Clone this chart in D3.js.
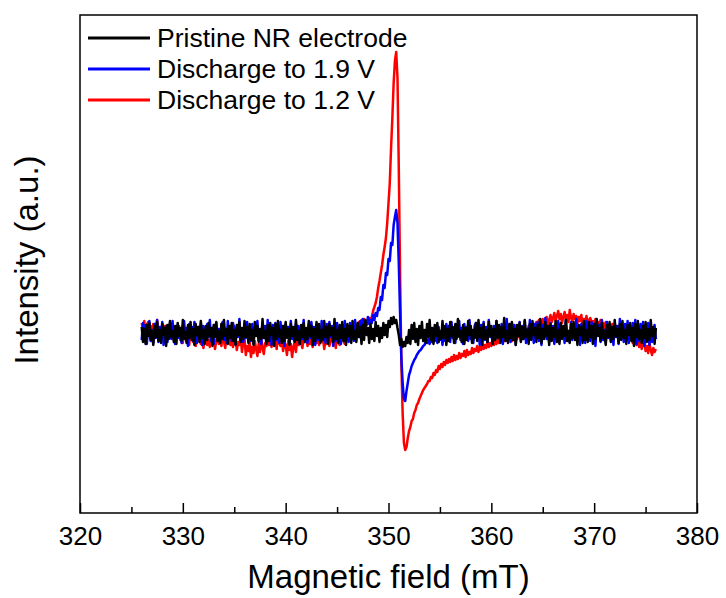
<!DOCTYPE html>
<html>
<head>
<meta charset="utf-8">
<script src="https://cdn.jsdelivr.net/npm/d3@7"></script>
<style>
    body { margin: 0; background: #fff; }
    text { font-family: "Liberation Sans", Arial, sans-serif; fill: #000; }
</style>
</head>
<body>
<svg id="chart" width="726" height="598"></svg>
<script>
// field axis sampling (mT): one reading every 0.125 mT from 326 to 376
var fieldStart = 326;
var fieldStep = 0.125;

// intensity (a.u.)
var pristine = [
    6, -9, 4, -11, 8, -3, 10, -7, 2, -12, 7, -4, 11, -8, 3, -10, 9, -2, 5, -13,
    8, -6, 12, -4, 2, -9, 7, -11, 10, -3, 5, -8, 13, -6, 1, -10, 8, -5, 11, -7,
    4, -12, 9, -2, 6, -9, 12, -5, 3, -11, 7, -7, 10, -3, 5, -13, 8, -4, 11, -8,
    2, -10, 9, -6, 13, -3, 4, -11, 7, -5, 10, -8, 3, -12, 8, -2, 11, -9, 5, -6,
    12, -4, 6, -10, 9, -7, 3, -12, 11, -3, 7, -9, 4, -6, 14, -5, 2, -11, 8, -8,
    10, -2, 5, -13, 9, -6, 12, -4, 3, -10, 7, -8, 11, -5, 4, -12, 9, -3, 6, -9,
    13, -7, 2, -11, 8, -4, 10, -9, 5, -6, 12, -3, 7, -12, 4, -8, 11, -5, 9, -10,
    3, -7, 12, -4, 6, -11, 9, -2, 5, -9, 14, -6, 3, -10, 8, -5, 11, -8, 4, -12,
    9, -3, 7, -10, 12, -6, 2, -9, 10, -4, 6, -11, 8, -7, 13, -2, 5, -10, 9, -6,
    4, -8, 11, -3, 7, -9, 5, -5, 10, -2, 8, -4, 12, 6, 15, 9, 16, 10, 13, 5,
    -2, -12, -6, -14, -9, -13, -4, -10, 3, -11, 8, -6, 10, -9, 4, -12, 7, -5, 11, -8,
    3, -10, 9, -4, 13, -7, 5, -11, 8, -3, 10, -9, 2, -6, 12, -5, 7, -12, 4, -8,
    11, -3, 6, -10, 9, -6, 14, -4, 2, -9, 8, -11, 5, -7, 12, -2, 7, -10, 3, -5,
    10, -8, 13, -4, 5, -12, 9, -6, 3, -9, 11, -3, 7, -11, 4, -7, 12, -5, 8, -10,
    6, -4, 15, -8, 2, -10, 9, -5, 11, -7, 4, -12, 8, -3, 10, -9, 6, -6, 13, -4,
    3, -11, 9, -7, 12, -2, 5, -9, 8, -5, 14, -10, 4, -6, 11, -3, 7, -12, 9, -8,
    5, -4, 12, -9, 3, -11, 10, -6, 7, -3, 13, -8, 2, -10, 9, -5, 11, -7, 4, -12,
    8, -2, 6, -10, 12, -7, 3, -9, 11, -4, 7, -11, 9, -6, 14, -3, 5, -8, 10, -5,
    2, -12, 8, -4, 11, -9, 6, -6, 13, -3, 4, -10, 9, -7, 12, -5, 3, -11, 8, -2,
    10, -8, 5, -13, 9, -4, 12, -6, 3, -10, 7, -5, 11, -9, 4, -7, 13, -3, 6, -11,
    5
];

var discharge19 = [
    -7, 10, -4, 8, -11, 5, 12, -8, 3, -10, 9, -5, 13, -9, 6, -3, 11, -12, 4, 7,
    -9, 2, 10, -6, 12, -4, -11, 6, 8, -5, 3, -10, 7, 12, -6, 5, -13, 9, -3, 6,
    -8, 11, 4, -10, 6, -5, 10, -12, 7, 3, -6, 9, -4, 13, -8, 5, -11, 6, 10, -5,
    4, -9, 8, 11, -7, 3, -10, 12, -4, 6, -8, 10, 5, -11, 7, -4, 14, -6, 4, -9,
    8, -5, 11, -3, 6, -8, 9, -10, 5, -2, 12, -7, 3, -11, 9, -4, 7, -9, 13, -6,
    5, -12, 8, -3, 10, -7, 4, -10, 11, -5, 7, -13, 9, -2, 6, -9, 12, -6, 3, -8,
    10, -4, 7, -11, 5, -6, 13, -8, 2, -10, 9, -5, 11, -3, 6, -12, 8, -7, 4, -9,
    12, -5, 3, -10, 9, -6, 11, -4, 7, -13, 5, -8, 10, -2, 6, -11, 8, -5, 12, -7,
    4, -9, 10, -3, 7, -8, 13, -5, 6, -4, 12, 3, 14, 5, 11, 8, 16, 9, 13, 10,
    18, 13, 20, 17, 25, 23, 36, 33, 48, 45, 60, 58, 74, 72, 90, 88, 108, 116, 123, 110,
    70, 20, -25, -50, -66, -68, -58, -50, -42, -38, -33, -30, -27, -25, -22, -20, -18, -17, -15, -13,
    -12, -9, -10, -6, -11, -5, -9, -2, -8, 3, -10, 6, -7, 2, -12, 5, -8, 9, -4, 7,
    -9, 11, -5, 4, -10, 8, -3, 12, -7, 5, -11, 9, -4, 6, -8, 13, -6, 3, -10, 7,
    10, -5, 4, -12, 8, -3, 11, -7, 6, -9, 13, -4, 2, -10, 7, -6, 12, -2, 5, -8,
    9, -11, 6, -4, 14, -7, 3, -9, 10, -5, 8, -12, 5, -3, 11, -8, 7, -6, 12, -10,
    4, -7, 13, -5, 6, -10, 9, -3, 11, -8, 5, -12, 8, -4, 15, -6, 3, -9, 10, -5,
    7, -11, 4, -6, 12, -8, 9, -3, 6, -10, 13, -5, 2, -9, 11, -7, 8, -4, 14, -6,
    5, -12, 9, -3, 7, -10, 12, -6, 4, -8, 11, -5, 6, -13, 10, -2, 8, -9, 13, -7,
    3, -10, 11, -5, 8, -8, 6, -12, 10, -4, 7, -11, 14, -6, 5, -9, 9, -3, 12, -10,
    6, -7, 10, -4, 13, -11, 5, -8, 9, -6, 11, -13, 4, -5, 10, -12, 6, -9, -4, 8,
    -6
];

var discharge12 = [
    10, 4, 12, -1, 8, 11, -3, 7, 2, 9, -2, 6, 13, 0, 5, -4, 9, 3, 7, -2,
    4, -6, 8, 1, -5, 6, -8, 3, -3, 7, -7, 2, -10, 5, -4, -9, 1, -12, 3, -6,
    -9, -2, -13, -5, -8, 0, -11, -4, -15, -6, -3, -12, -7, -14, -1, -10, -5, -16, -8, -3,
    -11, -6, -13, -2, -9, -15, -4, -10, -7, -12, -3, -14, -8, -5, -17, -9, -12, -4, -19, -10,
    -6, -22, -13, -18, -9, -24, -14, -20, -8, -16, -23, -11, -19, -7, -15, -21, -10, -13, -5, -12,
    -8, -14, -3, -11, -7, -16, -4, -10, -13, -6, -18, -9, -12, -22, -8, -17, -11, -24, -14, -9,
    -19, -6, -12, -3, -10, -15, -5, -9, -2, -13, -7, -11, -4, -14, -8, -1, -10, -6, -12, -3,
    -9, -5, -16, -7, -11, -2, -13, -8, -4, -10, -6, -15, -3, -9, -12, -5, -1, -8, -11, -4,
    -7, 0, -5, 3, -3, 6, -1, 8, 4, 11, 7, 13, 9, 14, 10, 12, 11, 15, 13, 16,
    22, 26, 30, 36, 45, 52, 60, 68, 78, 86, 95, 110, 130, 150, 185, 215, 250, 272, 281, 255,
    165, 60, -30, -80, -110, -117, -114, -105, -98, -94, -88, -86, -80, -77, -72, -70, -66, -63, -60, -57,
    -55, -53, -51, -48, -48, -44, -45, -40, -42, -37, -39, -33, -36, -31, -34, -29, -32, -27, -30, -26,
    -29, -24, -28, -22, -27, -23, -26, -20, -25, -21, -23, -18, -24, -17, -22, -19, -21, -15, -20, -16,
    -18, -13, -19, -14, -17, -11, -16, -12, -15, -9, -14, -10, -13, -7, -12, -9, -11, -5, -10, -7,
    -9, -3, -8, -5, -7, -1, -6, -3, -8, 1, -5, -2, -6, 3, -4, 0, -3, 5, -2, 2,
    -1, 7, 1, 4, 3, 9, 5, 11, 6, 13, 8, 10, 14, 7, 12, 16, 9, 13, 18, 11,
    15, 20, 12, 17, 22, 14, 19, 10, 16, 21, 13, 18, 11, 23, 15, 12, 19, 14, 17, 10,
    16, 12, 18, 9, 14, 11, 17, 8, 13, 15, 10, 12, 7, 14, 9, 11, 6, 13, 8, 10,
    5, 11, 3, 8, 6, 2, 9, 4, 0, 7, -2, 5, 1, -4, 3, -1, -6, 2, -3, -8,
    0, -5, -10, -3, -8, -12, -6, -14, -9, -16, -11, -7, -18, -13, -20, -10, -17, -22, -15, -19,
    -16
];

var seriesNames = ["Pristine NR electrode", "Discharge to 1.9 V", "Discharge to 1.2 V"];
var seriesColors = ["#000000", "#0000ff", "#ff0000"];
var majorTicks = [320, 330, 340, 350, 360, 370, 380];
var minorTicks = [325, 335, 345, 355, 365, 375];

var margin = {top: 15, right: 29, bottom: 85, left: 80};
var width = 726 - margin.left - margin.right;
var height = 598 - margin.top - margin.bottom;

var svg = d3.select("#chart");
var g = svg.append("g")
    .attr("transform", "translate(" + margin.left + "," + margin.top + ")");

var x = d3.scaleLinear().domain([320, 380]).range([0, width]);
var y = d3.scaleLinear().domain([-180, 318]).range([height, 0]);

function toPoints(values) {
    return values.map(function (v, i) {
        return {field: fieldStart + i * fieldStep, value: v};
    });
}

var line = d3.line()
    .x(function (d) { return x(d.field); })
    .y(function (d) { return y(d.value); });

// red under blue under black, like the picture
var drawOrder = [
    {data: discharge12, color: seriesColors[2]},
    {data: discharge19, color: seriesColors[1]},
    {data: pristine, color: seriesColors[0]}
];
drawOrder.forEach(function (s) {
    g.append("path")
        .datum(toPoints(s.data))
        .attr("fill", "none")
        .attr("stroke", s.color)
        .attr("stroke-width", 2.5)
        .attr("stroke-linejoin", "round")
        .attr("d", line);
});

// bottom axis, ticks pointing inward
var xAxis = g.append("g")
    .attr("transform", "translate(0," + height + ")")
    .call(d3.axisBottom(x).tickValues(majorTicks).tickSizeInner(-10).tickSizeOuter(0).tickPadding(14));
xAxis.select(".domain").remove();
xAxis.selectAll("line").attr("stroke-width", 1.5);
xAxis.selectAll("text")
    .style("font-family", '"Liberation Sans", Arial, sans-serif')
    .attr("font-size", 26);

g.append("g")
    .attr("transform", "translate(0," + height + ")")
    .call(d3.axisBottom(x).tickValues(minorTicks).tickSizeInner(-6).tickSizeOuter(0).tickFormat(""))
    .call(function (a) { a.select(".domain").remove(); })
    .selectAll("line").attr("stroke-width", 1.5);

// frame
g.append("rect")
    .attr("width", width)
    .attr("height", height)
    .attr("fill", "none")
    .attr("stroke", "#000")
    .attr("stroke-width", 1.5);

// axis titles
svg.append("text")
    .attr("x", margin.left + width / 2)
    .attr("y", 588)
    .attr("text-anchor", "middle")
    .attr("font-size", 33)
    .text("Magnetic field (mT)");

svg.append("text")
    .attr("transform", "translate(38," + (margin.top + height / 2 - 4) + ") rotate(-90)")
    .attr("text-anchor", "middle")
    .attr("font-size", 33)
    .text("Intensity (a.u.)");

// legend
var legend = svg.append("g");
seriesNames.forEach(function (name, i) {
    var ly = 38 + i * 31;
    legend.append("line")
        .attr("x1", 88).attr("x2", 150)
        .attr("y1", ly).attr("y2", ly)
        .attr("stroke", seriesColors[i])
        .attr("stroke-width", 3);
    legend.append("text")
        .attr("x", 157)
        .attr("y", ly + 9)
        .attr("font-size", 26.5)
        .text(name);
});
</script>
</body>
</html>
